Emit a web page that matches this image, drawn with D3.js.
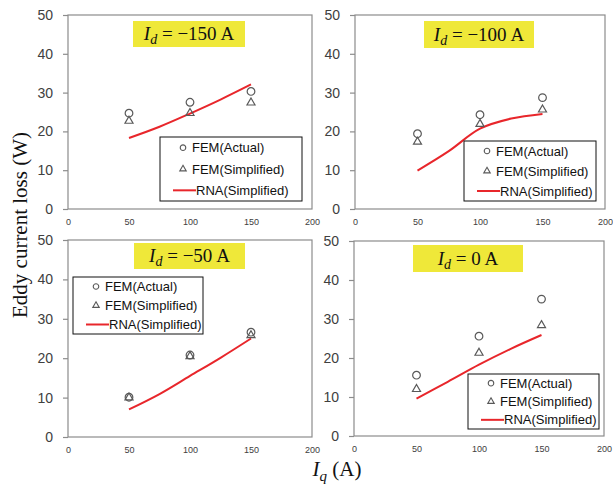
<!DOCTYPE html>
<html>
<head>
<meta charset="utf-8">
<script src="https://cdn.jsdelivr.net/npm/d3@7"></script>
<style>
  body { margin: 0; background: #fff; }
  svg { display: block; }
  .tick text { fill: #404040; }
</style>
</head>
<body>
<svg id="chart" width="613" height="485"></svg>
<script>
// values
const iqPoints = [50, 100, 150];
const iqCurve = [50, 75, 100, 125, 150];
const idLabels = ["\u2212150", "\u2212100", "\u221250", "0"];
const femActual = [
  [24.7, 27.5, 30.3],
  [19.4, 24.3, 28.7],
  [10.1, 20.8, 26.6],
  [15.6, 25.6, 35.1]
];
const femSimplified = [
  [22.7, 24.7, 27.4],
  [17.3, 21.9, 25.6],
  [10.0, 20.5, 25.8],
  [12.0, 21.3, 28.4]
];
const rnaSimplified = [
  [18.3, 21.2, 24.6, 28.2, 32.1],
  [9.9, 14.9, 20.7, 23.3, 24.5],
  [7.0, 10.9, 15.5, 20.1, 25.0],
  [9.6, 13.9, 18.3, 22.3, 25.9]
];
const xTicks = [0, 50, 100, 150, 200];
const yTicks = [0, 10, 20, 30, 40, 50];
const legendLabels = ["FEM(Actual)", "FEM(Simplified)", "RNA(Simplified)"];

// layout of the four panels
const frames = [
  {x0: 68, x1: 312, y0: 15, y1: 209},
  {x0: 355, x1: 605, y0: 15, y1: 209},
  {x0: 68, x1: 312, y0: 240, y1: 437},
  {x0: 354, x1: 604, y0: 241, y1: 436}
];
const titleBoxes = [
  {x: 133, y: 21, w: 112, h: 26},
  {x: 424, y: 21, w: 110, h: 27},
  {x: 134, y: 243, w: 111, h: 26},
  {x: 413, y: 245, w: 110, h: 27}
];
const legendBoxes = [
  {x: 160, y: 137, w: 142, h: 64},
  {x: 464, y: 141, w: 132, h: 60},
  {x: 73, y: 277, w: 130, h: 57},
  {x: 468, y: 374, w: 131, h: 55}
];

const svg = d3.select("#chart");
const markColor = "#595959";
const lineColor = "#e8262b";
const uiFont = "'Liberation Sans', Arial, sans-serif";
const mathFont = "'Liberation Serif', 'Times New Roman', serif";

const circleSym = d3.symbol().type(d3.symbolCircle);
const triSym = d3.symbol().type(d3.symbolTriangle);

frames.forEach(function(f, i) {
  var x = d3.scaleLinear().domain([0, 200]).range([f.x0, f.x1]);
  var y = d3.scaleLinear().domain([0, 50]).range([f.y1, f.y0]);
  var g = svg.append("g");

  // frame
  g.append("rect")
    .attr("x", f.x0).attr("y", f.y0)
    .attr("width", f.x1 - f.x0).attr("height", f.y1 - f.y0)
    .attr("fill", "none").attr("stroke", "#8c8c8c").attr("stroke-width", 1.2);

  var ya = g.append("g")
    .attr("transform", "translate(" + f.x0 + ",0)")
    .call(d3.axisLeft(y).tickValues(yTicks).tickSize(5).tickPadding(10));
  ya.select(".domain").remove();
  ya.selectAll(".tick line").attr("stroke", "#8c8c8c").attr("stroke-width", 1.2);
  ya.selectAll(".tick text").style("font", "14px " + uiFont);

  var xa = g.append("g")
    .attr("transform", "translate(0," + f.y1 + ")")
    .call(d3.axisBottom(x).tickValues(xTicks).tickSize(0).tickPadding(10));
  xa.select(".domain").remove();
  xa.selectAll(".tick text").style("font", "9px " + uiFont);

  // title box
  var tb = titleBoxes[i];
  g.append("rect")
    .attr("x", tb.x).attr("y", tb.y).attr("width", tb.w).attr("height", tb.h)
    .attr("fill", "#efe839");
  var t = g.append("text")
    .attr("x", tb.x + tb.w / 2).attr("y", tb.y + tb.h - 7)
    .attr("text-anchor", "middle")
    .style("font", "19px " + mathFont).attr("fill", "#111");
  t.append("tspan").attr("font-style", "italic").text("I");
  t.append("tspan").attr("font-style", "italic").attr("font-size", 14).attr("dy", 4).text("d");
  t.append("tspan").attr("dy", -4).text(" = " + idLabels[i] + "\u2009A");

  // RNA curve
  var line = d3.line()
    .x(function(d, k) { return x(iqCurve[k]); })
    .y(function(d) { return y(d); })
    .curve(d3.curveCatmullRom);
  g.append("path")
    .datum(rnaSimplified[i])
    .attr("d", line)
    .attr("fill", "none").attr("stroke", lineColor).attr("stroke-width", 2);

  // FEM markers
  g.selectAll(".circ")
    .data(femActual[i])
    .enter().append("path")
      .attr("class", "circ")
      .attr("d", circleSym.size(46)())
      .attr("transform", function(d, k) { return "translate(" + x(iqPoints[k]) + "," + y(d) + ")"; })
      .attr("fill", "none").attr("stroke", markColor).attr("stroke-width", 1.2);

  g.selectAll(".tri")
    .data(femSimplified[i])
    .enter().append("path")
      .attr("class", "tri")
      .attr("d", triSym.size(28)())
      .attr("transform", function(d, k) { return "translate(" + x(iqPoints[k]) + "," + y(d) + ")"; })
      .attr("fill", "none").attr("stroke", markColor).attr("stroke-width", 1.2);

  // legend
  var lb = legendBoxes[i];
  var leg = g.append("g");
  leg.append("rect")
    .attr("x", lb.x).attr("y", lb.y).attr("width", lb.w).attr("height", lb.h)
    .attr("fill", "#fff").attr("stroke", "#111").attr("stroke-width", 1);
  var step = lb.h / 3;
  legendLabels.forEach(function(label, k) {
    var cy = lb.y + step * (k + 0.5);
    if (k === 0) {
      leg.append("path").attr("d", circleSym.size(24)())
        .attr("transform", "translate(" + (lb.x + 23) + "," + cy + ")")
        .attr("fill", "none").attr("stroke", markColor).attr("stroke-width", 1.1);
    } else if (k === 1) {
      leg.append("path").attr("d", triSym.size(18)())
        .attr("transform", "translate(" + (lb.x + 23) + "," + cy + ")")
        .attr("fill", "none").attr("stroke", markColor).attr("stroke-width", 1.1);
    } else {
      leg.append("line")
        .attr("x1", lb.x + 13).attr("x2", lb.x + 36)
        .attr("y1", cy).attr("y2", cy)
        .attr("stroke", lineColor).attr("stroke-width", 2);
    }
    leg.append("text")
      .attr("x", k === 2 ? lb.x + 36 : lb.x + 32)
      .attr("y", cy).attr("dy", "0.35em")
      .style("font", "13px " + uiFont).attr("fill", "#111")
      .text(label);
  });
});

// shared axis titles
svg.append("text")
  .attr("transform", "translate(27,225) rotate(-90)")
  .attr("text-anchor", "middle")
  .style("font", "21px " + mathFont).attr("fill", "#111")
  .text("Eddy current loss (W)");

var xl = svg.append("text")
  .attr("x", 337).attr("y", 476)
  .attr("text-anchor", "middle")
  .style("font", "21px " + mathFont).attr("fill", "#111");
xl.append("tspan").attr("font-style", "italic").text("I");
xl.append("tspan").attr("font-style", "italic").attr("font-size", 15).attr("dy", 5).text("q");
xl.append("tspan").attr("dy", -5).text(" (A)");
</script>
</body>
</html>
